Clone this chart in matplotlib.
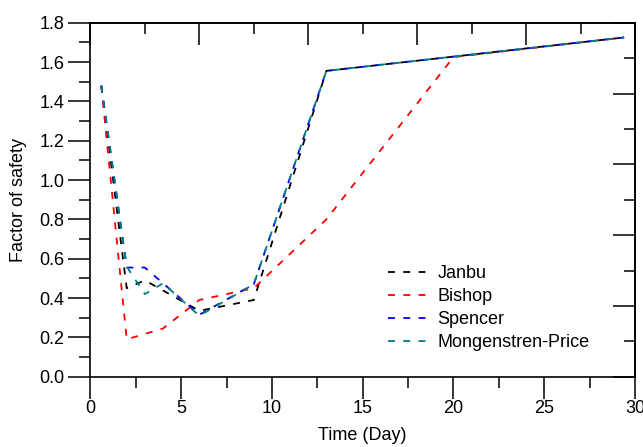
import matplotlib
matplotlib.use("Agg")
import matplotlib.pyplot as plt
import numpy as np
from matplotlib.ticker import MultipleLocator, FixedLocator, NullFormatter

plt.rcParams['font.family'] = ['Liberation Sans', 'DejaVu Sans']
plt.rcParams['lines.scale_dashes'] = False

# Data
janbu_x = [0.6, 2, 3, 6, 9, 13, 29.4]
janbu_y = [1.48, 0.45, 0.49, 0.335, 0.39, 1.555, 1.725]
bishop_x = [0.6, 2, 4, 6, 9, 13, 20, 29.4]
bishop_y = [1.48, 0.19, 0.245, 0.39, 0.45, 0.80, 1.625, 1.725]
spencer_x = [0.6, 2, 3, 4, 6, 9, 13, 29.4]
spencer_y = [1.48, 0.555, 0.555, 0.475, 0.315, 0.47, 1.555, 1.725]
mp_x = [0.6, 2, 3, 4, 6, 9, 13, 29.4]
mp_y = [1.48, 0.56, 0.42, 0.475, 0.31, 0.47, 1.555, 1.725]

series = [
    ("Janbu", janbu_x, janbu_y, "black"),
    ("Bishop", bishop_x, bishop_y, "#ff0000"),
    ("Spencer", spencer_x, spencer_y, "#0000ff"),
    ("Mongenstren-Price", mp_x, mp_y, "#008080"),
]

W, H = 643, 447
fig = plt.figure(figsize=(W / 100, H / 100), dpi=100)
left, right = 90.4, 635.0
top, bottom = 22.7, 376.7
ax = fig.add_axes([left / W, 1 - bottom / H, (right - left) / W, (bottom - top) / H])

for name, xs, ys, c in series:
    ax.plot(xs, ys, color=c, lw=1.3, dashes=(5, 6), label=name)

ax.set_xlim(0, 30)
ax.set_ylim(0, 1.8)

for s in ax.spines.values():
    s.set_linewidth(1.2)

FS = 13
ax.xaxis.set_major_locator(MultipleLocator(5))
ax.xaxis.set_minor_locator(MultipleLocator(2.5))
ax.yaxis.set_major_locator(MultipleLocator(0.2))
ax.yaxis.set_minor_locator(MultipleLocator(0.1))
ax.yaxis.set_major_formatter(matplotlib.ticker.FormatStrFormatter('%.1f'))
ax.tick_params(which='major', direction='out', length=16, width=1.1, labelsize=FS)
ax.tick_params(which='minor', direction='out', length=8, width=1.1)
ax.tick_params(axis='x', which='major', pad=1)
ax.tick_params(axis='y', which='major', pad=2.5)

# top axis: ticks every 3, major every 6, inward
secx = ax.secondary_xaxis('top')
secx.xaxis.set_major_locator(FixedLocator(np.arange(0, 30.1, 6)))
secx.xaxis.set_minor_locator(FixedLocator(np.arange(3, 30, 6)))
secx.xaxis.set_major_formatter(NullFormatter())
secx.tick_params(which='major', direction='in', length=16, width=1.1)
secx.tick_params(which='minor', direction='in', length=8, width=1.1)
secx.spines['top'].set_linewidth(1.2)

# right axis: ticks every 0.18, major every 0.36, inward
secy = ax.secondary_yaxis('right')
secy.yaxis.set_major_locator(FixedLocator(np.arange(0, 1.81, 0.36)))
secy.yaxis.set_minor_locator(FixedLocator(np.arange(0.18, 1.8, 0.36)))
secy.yaxis.set_major_formatter(NullFormatter())
secy.tick_params(which='major', direction='in', length=16, width=1.1)
secy.tick_params(which='minor', direction='in', length=8, width=1.1)
secy.spines['right'].set_linewidth(1.2)

ax.set_xlabel("Time (Day)", fontsize=FS, labelpad=7)
ax.set_ylabel("Factor of safety", fontsize=FS, labelpad=9)

leg = ax.legend(loc='upper left', bbox_to_anchor=(388 / W, 1 - 265 / H),
                bbox_transform=fig.transFigure, frameon=False, fontsize=FS,
                borderpad=0, borderaxespad=0, handlelength=2.4,
                handletextpad=0.33, labelspacing=0.34)

fig.savefig("out.png", dpi=100)
